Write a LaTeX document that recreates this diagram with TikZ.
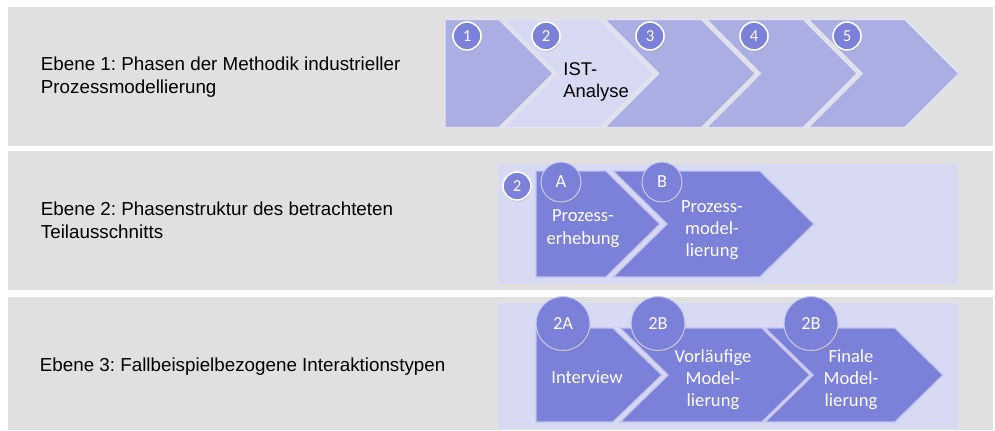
\documentclass[tikz,border=0pt]{standalone}
\usepackage{fontspec}
\setmainfont{Liberation Sans}
\newfontfamily\calibri{Carlito}
\usetikzlibrary{shadows}
\frenchspacing

\definecolor{bandgray}{HTML}{E0E0E0}
\definecolor{chevlight}{HTML}{ABAEE3}
\definecolor{chevpale}{HTML}{D8D9F3}
\definecolor{chevdark}{HTML}{7B80D8}

\tikzset{
  lbl/.style={anchor=base west, align=left, inner sep=0pt, font=\fontsize{9.4}{11.25}\selectfont},
  chev/.style={fill=chevlight, draw=white!65!chevlight, line width=0.7pt},
  chevd/.style={fill=chevdark, draw=white!55!chevdark, line width=0.7pt},
  num/.style={circle, fill=chevdark, draw=white, line width=0.8pt, minimum size=14pt, inner sep=0pt,
    text=white, font=\calibri\fontsize{8.4}{9}\selectfont,
    drop shadow={opacity=0.3, shadow xshift=0.3pt, shadow yshift=-0.8pt}},
  bignum/.style={num, draw=white!60!chevdark, line width=0.5pt, minimum size=20pt, font=\calibri\fontsize{9.2}{10}\selectfont},
  hugenum/.style={bignum, minimum size=27pt, drop shadow={opacity=0}},
  wtxt/.style={anchor=base, align=center, inner sep=0pt, text=white, font=\calibri\fontsize{9.3}{11}\selectfont}
}

\begin{document}
\begin{tikzpicture}[x=0.5pt, y=-0.5pt]
\fill[white] (0, 0) rectangle (995, 430);
\useasboundingbox (0, 0) rectangle (995, 430);

% the three levels (anchors sit on the last text line)
\fill[bandgray] (8, 7) rectangle (993, 146);
\fill[bandgray] (8, 151) rectangle (993, 290);
\fill[bandgray] (8, 297) rectangle (993, 430);

\node[lbl] at (40.5, 93.2) (ebene1) {Ebene 1: Phasen der Methodik industrieller\\Prozessmodellierung};
\node[lbl] at (40.5, 238) (ebene2) {Ebene 2: Phasenstruktur des betrachteten\\Teilausschnitts};
\node[lbl] at (39.5, 371) (ebene3) {Ebene 3: Fallbeispielbezogene Interaktionstypen};

% level 1
\draw[chev] (445, 19.5) -- (499, 19.5) -- (553, 73.5) -- (499, 127.5) -- (445, 127.5) -- cycle;
\foreach \k in {0,...,3}{
	\pgfmathsetmacro{\a}{503 + 101.7*\k}
	\draw[chev] (\a, 19.5) -- (\a + 97, 19.5) -- (\a + 151, 73.5) -- (\a + 97, 127.5) -- (\a, 127.5) -- (\a + 54, 73.5) -- cycle;}
\draw[chev, fill=chevpale] (503, 19.5) -- (600, 19.5) -- (654, 73.5) -- (600, 127.5) -- (503, 127.5) -- (557, 73.5) -- cycle;

\foreach \n/\x in {1/467, 2/546, 3/650, 4/754, 5/847}{
	\node[num] at (\x, 36) (p\n) {\n};}
\node[anchor=base west, align=left, inner sep=0pt, font=\fontsize{9.2}{11.35}\selectfont] at (563, 97.7) (ist) {IST-\\Analyse};

% level 2
\fill[chevpale] (498, 164) rectangle (958, 284);
\draw[chevd] (536, 171) -- (606, 171) -- (660, 224) -- (606, 277) -- (536, 277) -- cycle;
\draw[chevd] (613, 171) -- (760, 171) -- (814, 224) -- (760, 277) -- (613, 277) -- (667, 224) -- cycle;
\node[num] at (517, 186) (z2) {2};
\node[bignum] at (561, 182) (za) {A};
\node[bignum] at (662, 182) (zb) {B};
\node[wtxt, font=\calibri\fontsize{9.3}{11.5}\selectfont] at (583, 244.5) (erheb) {Prozess-\\erhebung};
\node[wtxt] at (712, 256) (model) {Prozess-\\model-\\lierung};

% level 3
\fill[chevpale] (498, 303) rectangle (958, 429);
\draw[chevd] (536, 328) -- (613, 328) -- (662, 375) -- (613, 422) -- (536, 422) -- cycle;
\draw[chevd] (620, 328) -- (762, 328) -- (810, 375) -- (762, 422) -- (620, 422) -- (668, 375) -- cycle;
\draw[chevd] (765, 328) -- (895, 328) -- (943, 375) -- (895, 422) -- (765, 422) -- (813, 375) -- cycle;
\node[hugenum] at (563, 323.5) (ia) {2A};
\node[hugenum] at (658, 323.5) (ib) {2B};
\node[hugenum] at (811, 323.5) (ic) {2B};
\node[wtxt] at (587, 383) (interv) {Interview};
\node[wtxt] at (713, 406) (vorl) {Vorläufige\\Model-\\lierung};
\node[wtxt] at (851, 406) (finale) {Finale\\Model-\\lierung};
\end{tikzpicture}
\end{document}
